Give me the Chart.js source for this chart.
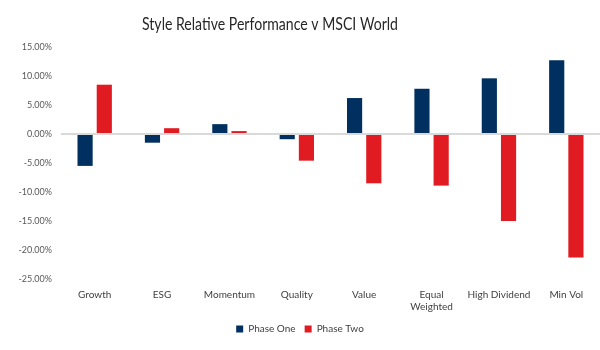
<!DOCTYPE html>
<html>
<head>
<meta charset="utf-8">
<script src="https://cdn.jsdelivr.net/npm/chart.js@4/dist/chart.umd.min.js"></script>
<style>
html,body{margin:0;padding:0;background:#fff;}
#wrap{width:600px;height:350px;}
</style>
</head>
<body>
<div id="wrap"><canvas id="c" width="600" height="350"></canvas></div>
<script>
const categories = ['Growth', 'ESG', 'Momentum', 'Quality', 'Value', ['Equal', 'Weighted'], 'High Dividend', 'Min Vol'];
const phaseOne = [-5.5, -1.5, 1.7, -0.9, 6.2, 7.8, 9.6, 12.7];
const phaseTwo = [8.5, 1.0, 0.5, -4.6, -8.5, -8.9, -15.0, -21.3];
const yTicks = [15, 10, 5, 0, -5, -10, -15, -20, -25];
const titleText = 'Style Relative Performance v MSCI World';

const FONT = 'Lato, "Open Sans", sans-serif';

const titlePlugin = {
  id: 'customTitle',
  afterDraw(chart) {
    const ctx = chart.ctx;
    ctx.save();
    ctx.font = '17px ' + FONT;
    ctx.fillStyle = '#262626';
    ctx.textAlign = 'center';
    ctx.textBaseline = 'middle';
    const w = ctx.measureText(titleText).width;
    const s = Math.min(1, 256 / w);
    ctx.translate(270, 25);
    ctx.scale(s, 1);
    ctx.fillText(titleText, 0, 0);
    ctx.restore();
  }
};

new Chart(document.getElementById('c'), {
  type: 'bar',
  data: {
    labels: categories,
    datasets: [
      { label: 'Phase One', data: phaseOne, backgroundColor: '#00305F', categoryPercentage: 0.57, barPercentage: 0.79 },
      { label: 'Phase Two', data: phaseTwo, backgroundColor: '#E11B22', categoryPercentage: 0.57, barPercentage: 0.79 }
    ]
  },
  options: {
    responsive: false,
    animation: false,
    layout: { padding: { top: 47, left: 0, right: 0, bottom: 6 } },
    plugins: {
      title: { display: false },
      tooltip: { enabled: false },
      legend: {
        position: 'bottom',
        labels: {
          boxWidth: 7, boxHeight: 7, padding: 9,
          color: '#404040',
          font: { family: FONT, size: 10 }
        }
      }
    },
    scales: {
      x: {
        grid: { display: false },
        border: { display: false },
        ticks: { color: '#404040', font: { family: FONT, size: 10 }, maxRotation: 0, autoSkip: false, padding: 2 }
      },
      y: {
        min: -25, max: 15,
        afterBuildTicks(scale) { scale.ticks = yTicks.map(v => ({ value: v })); },
        afterFit(scale) { scale.width = 61; },
        border: { display: false },
        grid: {
          color: ctx => (ctx.tick && ctx.tick.value === 0) ? '#d9d9d9' : 'rgba(0,0,0,0)',
          lineWidth: 2,
          drawTicks: false
        },
        ticks: {
          color: '#595959',
          font: { family: FONT, size: 9 },
          padding: 9,
          callback: v => v.toFixed(2) + '%'
        }
      }
    }
  },
  plugins: [titlePlugin]
});
</script>
</body>
</html>
